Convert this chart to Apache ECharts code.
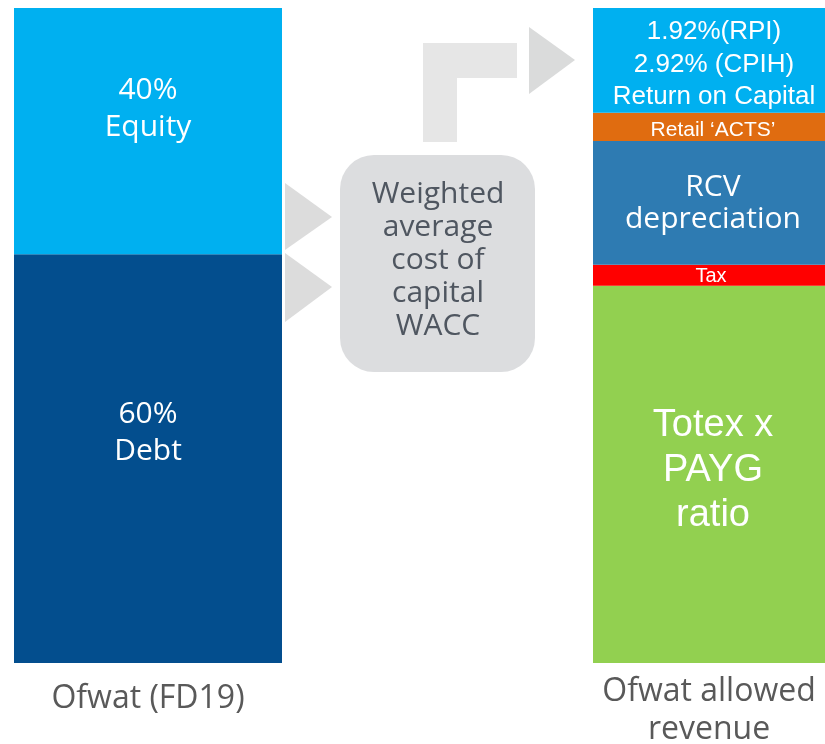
<!DOCTYPE html>
<html>
<head>
<meta charset="utf-8">
<script src="https://cdn.jsdelivr.net/npm/echarts@6/dist/echarts.min.js"></script>
<style>html,body{margin:0;padding:0;background:#fff}#c{width:825px;height:744px}</style>
</head>
<body>
<div id="c"></div>
<script>
// Categories (bottom labels)
var leftCategory = ['Ofwat (FD19)'];
var rightCategory = ['Ofwat allowed\nrevenue'];

// Left bar: share of bar height (%), bottom to top
var leftNames = ['Debt', 'Equity'];
var leftValues = [62.4, 37.6];
var leftLabels = ['60%\nDebt', '40%\nEquity'];

// Right bar: share of bar height (%), bottom to top
var rightNames = ['Totex', 'Tax', 'RCV depreciation', 'Retail ACTS', 'Return on Capital'];
var rightValues = [57.6, 3.2, 18.9, 4.3, 16.0];
var rightLabels = ['Totex x\nPAYG\nratio', 'Tax', 'RCV\ndepreciation', 'Retail \u2018ACTS\u2019', '1.92%(RPI)\n2.92% (CPIH)\nReturn on Capital'];

var middleText = 'Weighted\naverage\ncost of\ncapital\nWACC';

var leftColors = ['#034E8E', '#00B0F0'];
var leftStyle = [
  {fontSize: 30, lineHeight: 37, fontFamily: 'Open Sans', offset: [0, -26]},
  {fontSize: 30, lineHeight: 37, fontFamily: 'Open Sans', offset: [0, -22]}
];
var rightColors = ['#92D050', '#FF0000', '#2E7BB2', '#E06C10', '#00B0F0'];
var rightStyle = [
  {fontSize: 38, lineHeight: 45, fontFamily: 'Liberation Sans', offset: [4, -4]},
  {fontSize: 20, lineHeight: 21, fontFamily: 'Liberation Sans', offset: [2, 1]},
  {fontSize: 30, lineHeight: 32, fontFamily: 'Open Sans', offset: [4, 1]},
  {fontSize: 21, lineHeight: 24, fontFamily: 'Liberation Sans', offset: [4, 3]},
  {fontSize: 26, lineHeight: 32.5, fontFamily: 'Liberation Sans', offset: [5, 4]}
];

var series = [];
leftValues.forEach(function (v, i) {
  series.push({
    type: 'bar', name: leftNames[i], stack: 'L', xAxisIndex: 0, yAxisIndex: 0,
    barWidth: '100%', data: [v],
    itemStyle: {color: leftColors[i]},
    label: {show: true, position: 'inside', color: '#fff', formatter: leftLabels[i],
      fontSize: leftStyle[i].fontSize, lineHeight: leftStyle[i].lineHeight,
      fontFamily: leftStyle[i].fontFamily, offset: leftStyle[i].offset}
  });
});
rightValues.forEach(function (v, i) {
  series.push({
    type: 'bar', name: rightNames[i], stack: 'R', xAxisIndex: 1, yAxisIndex: 1,
    barWidth: '100%', data: [v],
    itemStyle: {color: rightColors[i]},
    label: {show: true, position: 'inside', color: '#fff', formatter: rightLabels[i],
      fontSize: rightStyle[i].fontSize, lineHeight: rightStyle[i].lineHeight,
      fontFamily: rightStyle[i].fontFamily, offset: rightStyle[i].offset}
  });
});

var axisCommon = {
  type: 'category', axisLine: {show: false}, axisTick: {show: false},
  axisLabel: {color: '#595959', fontSize: 32, lineHeight: 38, fontFamily: 'Open Sans'}
};

var chart = echarts.init(document.getElementById('c'));
chart.setOption({
  animation: false,
  backgroundColor: '#ffffff',
  grid: [
    {left: 14, top: 8, width: 268, height: 655, outerBoundsMode: 'none', containLabel: false},
    {left: 593, top: 8, width: 232, height: 655, outerBoundsMode: 'none', containLabel: false}
  ],
  xAxis: [
    Object.assign({}, axisCommon, {gridIndex: 0, data: leftCategory,
      axisLabel: Object.assign({}, axisCommon.axisLabel, {margin: 17})}),
    Object.assign({}, axisCommon, {gridIndex: 1, data: rightCategory,
      axisLabel: Object.assign({}, axisCommon.axisLabel, {margin: 10})})
  ],
  yAxis: [
    {type: 'value', gridIndex: 0, min: 0, max: 100, show: false},
    {type: 'value', gridIndex: 1, min: 0, max: 100, show: false}
  ],
  series: series,
  graphic: [
    // arrows from left bar into WACC box
    {type: 'polygon', shape: {points: [[285, 183], [332, 217], [285, 250]]}, style: {fill: '#DCDCDC'}},
    {type: 'polygon', shape: {points: [[285, 253], [332, 287], [285, 322]]}, style: {fill: '#DCDCDC'}},
    // L-shaped arrow to right bar
    {type: 'polygon', shape: {points: [[423, 142], [423, 43], [517, 43], [517, 78], [457, 78], [457, 142]]}, style: {fill: '#E6E6E6'}},
    {type: 'polygon', shape: {points: [[529, 27], [575, 60], [529, 94]]}, style: {fill: '#DADBDB'}},
    // WACC box
    {type: 'rect', shape: {x: 340, y: 155, width: 195, height: 217, r: 34}, style: {fill: '#DCDDDF'}},
    {type: 'text', x: 438, y: 260, style: {text: middleText, fill: '#4F5660', fontSize: 30, lineHeight: 33,
      fontFamily: 'Open Sans', align: 'center', verticalAlign: 'middle'}}
  ]
});
</script>
</body>
</html>
